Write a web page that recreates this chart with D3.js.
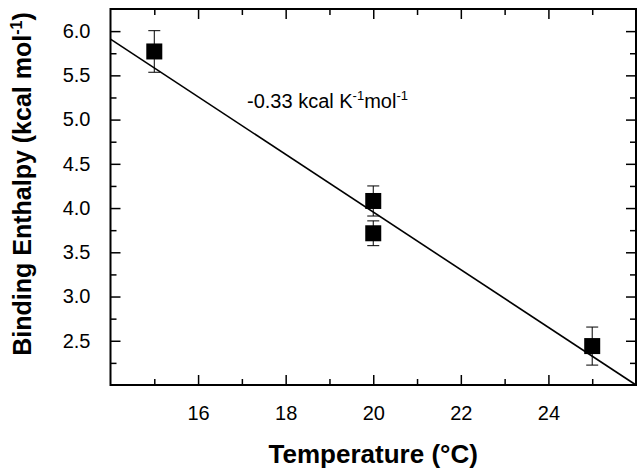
<!DOCTYPE html>
<html><head><meta charset="utf-8">
<script src="https://cdn.jsdelivr.net/npm/d3@7"></script>
<style>body{margin:0;background:#fff}svg{display:block}</style>
</head><body>
<script>
const temps = [15, 20, 20, 25];
const enthalpy = [5.77, 4.08, 3.715, 2.44];
const errors = [0.235, 0.17, 0.14, 0.215];
const fitX = [14, 26];
const fitY = [5.91, 2.0];
const xTicks = [16, 18, 20, 22, 24];
const yTicks = [2.5, 3.0, 3.5, 4.0, 4.5, 5.0, 5.5, 6.0];
const slopeLabel = "-0.33 kcal K";

const W = 640, H = 470;
const m = {l: 110.5, r: 4, t: 9, b: 85};
const svg = d3.select("body").append("svg").attr("width", W).attr("height", H);
const x = d3.scaleLinear().domain([14, 26]).range([m.l, W - m.r]);
const y = d3.scaleLinear().domain([2.0, 6.25]).range([H - m.b, m.t]);
const font = "Liberation Sans, Arial, sans-serif";

const minorX = d3.range(15, 26, 2);
const minorY = d3.range(2.25, 6.25, 0.5);

// bottom axis
svg.append("g").attr("transform", `translate(0,${H - m.b})`)
  .call(d3.axisBottom(x).tickValues(xTicks).tickSize(-10).tickPadding(21).tickFormat(d3.format("d")));
svg.append("g").attr("transform", `translate(0,${H - m.b})`)
  .call(d3.axisBottom(x).tickValues(minorX).tickSize(-6).tickFormat(""));
// left axis
svg.append("g").attr("transform", `translate(${m.l},0)`)
  .call(d3.axisLeft(y).tickValues(yTicks).tickSize(-10).tickPadding(20).tickFormat(d3.format(".1f")));
svg.append("g").attr("transform", `translate(${m.l},0)`)
  .call(d3.axisLeft(y).tickValues(minorY).tickSize(-6).tickFormat(""));
// right axis mirror
svg.append("g").attr("transform", `translate(${W - m.r},0)`)
  .call(d3.axisRight(y).tickValues(yTicks).tickSize(-10).tickFormat(""));
svg.append("g").attr("transform", `translate(${W - m.r},0)`)
  .call(d3.axisRight(y).tickValues(minorY).tickSize(-6).tickFormat(""));
// top axis mirror
svg.append("g").attr("transform", `translate(0,${m.t})`)
  .call(d3.axisTop(x).tickValues(xTicks).tickSize(-10).tickFormat(""));
svg.append("g").attr("transform", `translate(0,${m.t})`)
  .call(d3.axisTop(x).tickValues(minorX).tickSize(-6).tickFormat(""));

svg.selectAll(".domain").remove();
svg.selectAll(".tick line").attr("stroke", "#000").attr("stroke-width", 1.5);
svg.selectAll(".tick text").attr("font-family", font).attr("font-size", 20).attr("fill", "#000");

// frame
svg.append("rect").attr("x", x(14)).attr("y", y(6.25))
  .attr("width", x(26) - x(14)).attr("height", y(2.0) - y(6.25))
  .attr("fill", "none").attr("stroke", "#000").attr("stroke-width", 2);

// fit line
svg.append("line").attr("x1", x(fitX[0])).attr("y1", y(fitY[0]))
  .attr("x2", x(fitX[1])).attr("y2", y(fitY[1]))
  .attr("stroke", "#000").attr("stroke-width", 1.6);

// error bars
const pts = temps.map((t, i) => ({t, v: enthalpy[i], e: errors[i]}));
const eb = svg.append("g").attr("stroke", "#000").attr("stroke-width", 1);
pts.forEach(p => {
  const cx = x(p.t);
  eb.append("line").attr("x1", cx).attr("x2", cx).attr("y1", y(p.v + p.e)).attr("y2", y(p.v - p.e));
  [p.v + p.e, p.v - p.e].forEach(v => eb.append("line")
    .attr("x1", cx - 6).attr("x2", cx + 6).attr("y1", y(v)).attr("y2", y(v)));
});
// squares
const s = 16;
svg.append("g").selectAll("rect").data(pts).join("rect")
  .attr("x", d => x(d.t) - s / 2).attr("y", d => y(d.v) - s / 2)
  .attr("width", s).attr("height", s).attr("fill", "#000");

// annotation
const ann = svg.append("text").attr("x", 247).attr("y", 108)
  .attr("font-family", font).attr("font-size", 20).attr("fill", "#000");
ann.append("tspan").text(slopeLabel);
ann.append("tspan").attr("dy", -8).attr("font-size", 13).text("-1");
ann.append("tspan").attr("dy", 8).text("mol");
ann.append("tspan").attr("dy", -8).attr("font-size", 13).text("-1");

// axis titles
svg.append("text").attr("x", (x(14) + x(26)) / 2).attr("y", 463)
  .attr("text-anchor", "middle").attr("font-family", font).attr("font-weight", "bold")
  .attr("font-size", 26).text("Temperature (°C)");
const yl = svg.append("text").attr("transform", `translate(31,184) rotate(-90)`)
  .attr("text-anchor", "middle").attr("font-family", font).attr("font-weight", "bold")
  .attr("font-size", 25);
yl.append("tspan").text("Binding Enthalpy (kcal mol");
yl.append("tspan").attr("dy", -9).attr("font-size", 16).text("-1");
yl.append("tspan").attr("dy", 9).text(")");
</script>
</body></html>
